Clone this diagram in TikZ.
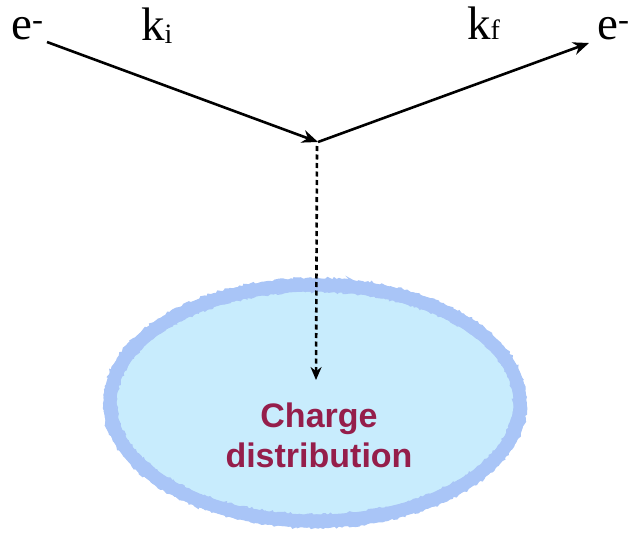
\documentclass[tikz,border=0pt]{standalone}
\usepackage{fontspec}
\setmainfont{Liberation Serif}
\newfontfamily\chargefont{Liberation Sans}
\usetikzlibrary{arrows.meta,shapes.geometric,decorations.pathmorphing}
\definecolor{chargered}{HTML}{951E4B}
\definecolor{cloudfill}{HTML}{C8ECFD}
\definecolor{cloudedge}{HTML}{A9C5F7}
\newcommand{\smallidx}[2]{{\fontsize{28}{28}\selectfont\raisebox{#1}{#2}}}
\begin{document}
\begin{tikzpicture}[x=1pt,y=-1pt,
  lbl/.style={font=\fontsize{47}{47}\selectfont, inner sep=0pt, anchor=base west},
  ray/.style={line width=2.6pt, -{Stealth[length=16pt,width=13pt]}},
  probe/.style={line width=2.6pt, dash pattern=on 5pt off 3.5pt, -{Stealth[length=13pt,width=11pt]}},
  roughedge/.style={draw=cloudedge, decorate, decoration={random steps,segment length=2.5pt,amplitude=1.4pt}},
]
\useasboundingbox (0,0) rectangle (628,532);
% charge distribution cloud
\node[ellipse, fill=cloudfill, draw=cloudedge, line width=13pt, minimum width=410pt, minimum height=236pt, inner sep=0pt] (cloud) at (315,403) {};
\draw[roughedge, line width=2pt] (cloud.center) ellipse [x radius=211pt, y radius=124pt];
\draw[roughedge, line width=1.5pt] (cloud.center) ellipse [x radius=199pt, y radius=112pt];
\node[text=chargered, font=\chargefont\bfseries\fontsize{34}{40}\selectfont, align=center, inner sep=0pt] (charge) at (319,435) {Charge\\distribution};
% labels
\node[lbl] (ein) at (11,40) {e\textsuperscript{-}};
\node[lbl] (ki) at (141,41) {k\smallidx{-3pt}{i}};
\node[lbl] (kf) at (467,40) {k\smallidx{0pt}{f}};
\node[lbl] (eout) at (597,40) {e\textsuperscript{-}};
% rays
\coordinate (startpt) at (47,42);
\coordinate (vtx) at (318,142);
\coordinate (endpt) at (589,43);
\coordinate (vtxlow) at (317,146);
\coordinate (dotend) at (316,380);
\draw[ray] (startpt) -- (vtx);
\draw[ray] (vtx) -- (endpt);
\draw[probe] (vtxlow) -- (dotend);
\end{tikzpicture}
\end{document}
